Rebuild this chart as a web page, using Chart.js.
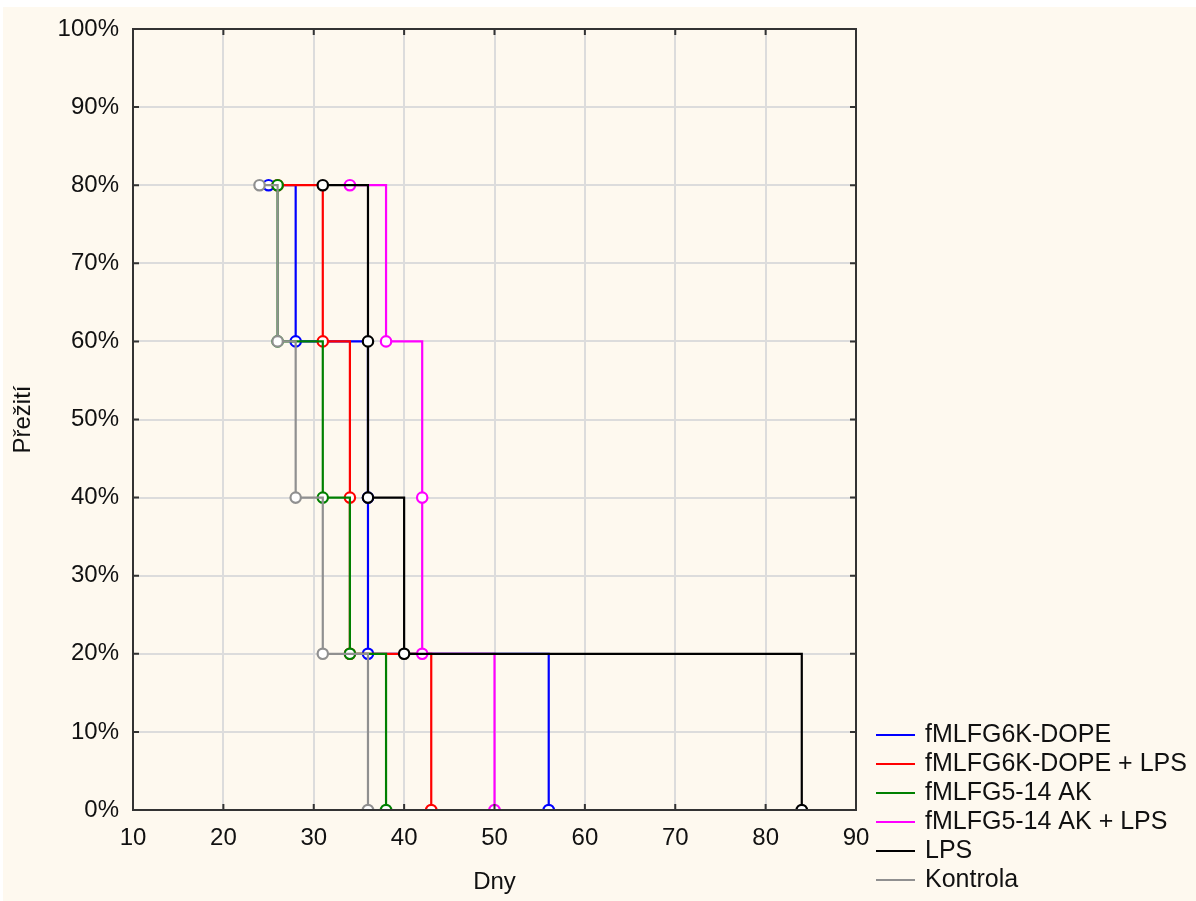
<!DOCTYPE html>
<html>
<head>
<meta charset="utf-8">
<script src="https://cdn.jsdelivr.net/npm/chart.js@4/dist/chart.umd.min.js"></script>
<style>
  body { margin: 0; background: #fff; }
  #obal { position: absolute; left: 3px; top: 7px; width: 1193px; height: 894px; background: #fef9ef; }
</style>
</head>
<body>
<div id="obal"><canvas id="prezitiChart"></canvas></div>
<script>
// Nazvy skupin a barvy
const skupiny = ['fMLFG6K-DOPE', 'fMLFG6K-DOPE + LPS', 'fMLFG5-14 AK', 'fMLFG5-14 AK + LPS', 'LPS', 'Kontrola'];
const barvy = ['#0000ff', '#ff0000', '#008000', '#ff00ff', '#000000', '#909090'];

// Dny umrti a preziti (%) pro kazdou skupinu
const dnyDope = [25, 28, 36, 36, 56];
const prezitiDope = [80, 60, 40, 20, 0];
const dnyDopeLps = [26, 31, 34, 34, 43];
const prezitiDopeLps = [80, 60, 40, 20, 0];
const dnyAk = [26, 26, 31, 34, 38];
const prezitiAk = [80, 60, 40, 20, 0];
const dnyAkLps = [34, 38, 42, 42, 50];
const prezitiAkLps = [80, 60, 40, 20, 0];
const dnyLps = [31, 36, 36, 40, 84];
const prezitiLps = [80, 60, 40, 20, 0];
const dnyKontrola = [24, 26, 28, 31, 36];
const prezitiKontrola = [80, 60, 40, 20, 0];

const dny = [dnyDope, dnyDopeLps, dnyAk, dnyAkLps, dnyLps, dnyKontrola];
const preziti = [prezitiDope, prezitiDopeLps, prezitiAk, prezitiAkLps, prezitiLps, prezitiKontrola];

// Osy
const xTicky = [10, 20, 30, 40, 50, 60, 70, 80, 90];
const yTicky = [0, 10, 20, 30, 40, 50, 60, 70, 80, 90, 100];

const pismo = '"Liberation Sans", Arial, sans-serif';
const barvaTextu = '#111';

// ramecek grafu a ticky smerem dovnitr
const ramecek = {
    id: 'ramecek',
    afterDatasetsDraw(chart) {
        const { ctx, chartArea: a, scales: { x, y } } = chart;
        ctx.save();
        ctx.strokeStyle = '#333';
        ctx.lineWidth = 2;
        ctx.beginPath();
        x.ticks.forEach(t => {
            const px = x.getPixelForValue(t.value);
            ctx.moveTo(px, a.bottom); ctx.lineTo(px, a.bottom - 6);
            ctx.moveTo(px, a.top); ctx.lineTo(px, a.top + 6);
        });
        y.ticks.forEach(t => {
            const py = y.getPixelForValue(t.value);
            ctx.moveTo(a.left, py); ctx.lineTo(a.left + 6, py);
            ctx.moveTo(a.right, py); ctx.lineTo(a.right - 6, py);
        });
        ctx.stroke();
        ctx.strokeRect(a.left, a.top, a.width, a.height);
        ctx.restore();
    }
};

// legenda vpravo dole
const legenda = {
    id: 'legenda',
    afterDraw(chart) {
        const ctx = chart.ctx;
        ctx.save();
        ctx.font = '25px ' + pismo;
        ctx.textBaseline = 'middle';
        chart.data.datasets.forEach((ds, i) => {
            const yy = 728 + i * 29;
            ctx.strokeStyle = ds.borderColor;
            ctx.lineWidth = 2;
            ctx.beginPath();
            ctx.moveTo(873, yy);
            ctx.lineTo(912, yy);
            ctx.stroke();
            ctx.fillStyle = barvaTextu;
            ctx.fillText(ds.label, 922, yy);
        });
        ctx.restore();
    }
};

const ctx = document.getElementById('prezitiChart').getContext('2d');
const prezitiChart = new Chart(ctx, {
    type: 'line',
    data: {
        datasets: skupiny.map((nazev, i) => ({
            label: nazev,
            data: dny[i].map((d, j) => ({ x: d, y: preziti[i][j] })),
            borderColor: barvy[i],
            borderWidth: 2.2,
            stepped: true,
            fill: false,
            pointRadius: 5.2,
            pointBorderWidth: 2.2,
            pointBorderColor: barvy[i],
            pointBackgroundColor: '#fff',
            order: skupiny.length - i
        }))
    },
    options: {
        responsive: true,
        maintainAspectRatio: false,
        animation: false,
        layout: { padding: { top: 22, right: 340, left: 0, bottom: 0 } },
        plugins: {
            legend: { display: false },
            tooltip: { enabled: false }
        },
        scales: {
            x: {
                type: 'linear',
                min: 10,
                max: 90,
                afterBuildTicks: s => { s.ticks = xTicky.map(v => ({ value: v })); },
                afterFit: s => { s.height = 91; s.paddingLeft = 0; s.paddingRight = 0; },
                grid: { color: '#dcdcdc', lineWidth: 2, drawTicks: false },
                border: { display: false },
                ticks: { font: { family: pismo, size: 24 }, color: barvaTextu, padding: 14, maxRotation: 0 },
                title: { display: true, text: 'Dny', font: { family: pismo, size: 24 }, color: barvaTextu, padding: { top: 0, bottom: 4 } }
            },
            y: {
                min: 0,
                max: 100,
                afterBuildTicks: s => { s.ticks = yTicky.map(v => ({ value: v })); },
                afterFit: s => { s.width = 130; s.paddingTop = 0; s.paddingBottom = 0; },
                grid: { color: '#dcdcdc', lineWidth: 2, drawTicks: false },
                border: { display: false },
                ticks: { font: { family: pismo, size: 24 }, color: barvaTextu, padding: 14, callback: v => v + '%' },
                title: { display: true, text: 'Přežití', font: { family: pismo, size: 24 }, color: barvaTextu, padding: { top: 6, bottom: 0 } }
            }
        }
    },
    plugins: [ramecek, legenda]
});
</script>
</body>
</html>
